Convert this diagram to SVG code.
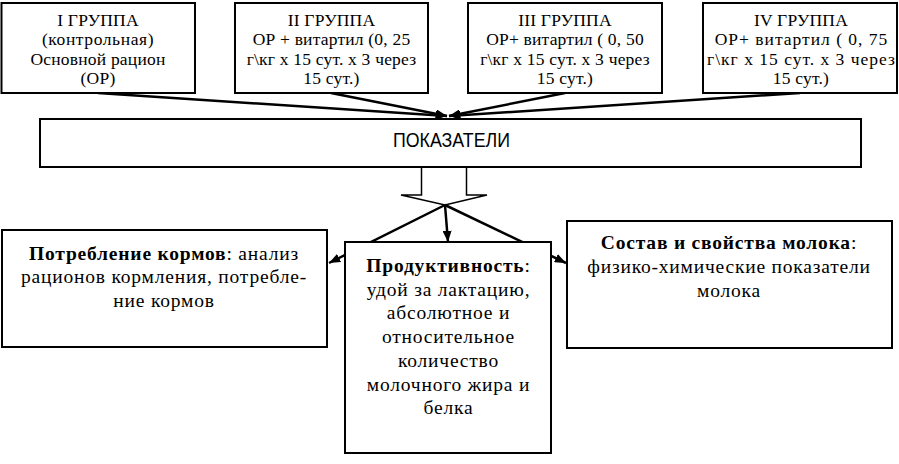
<svg xmlns="http://www.w3.org/2000/svg" width="899" height="464" viewBox="0 0 899 464">
<style>
.box{fill:#fff;stroke:#000;stroke-width:2}
.t{font-family:"Liberation Serif","Times New Roman",serif;font-size:17.5px;letter-spacing:0.2px;fill:#000;text-anchor:middle}
.w{letter-spacing:1px}
.b{font-family:"Liberation Serif","Times New Roman",serif;font-size:19.5px;letter-spacing:0.8px;fill:#000;text-anchor:middle}
.bold{font-weight:bold}
.s{font-family:"Liberation Sans",Arial,sans-serif;font-size:20px;fill:#000;text-anchor:middle}
.ln{stroke:#000;stroke-width:2.5;fill:none}
</style>
<defs>
<marker id="ah" viewBox="0 0 10 8" refX="10" refY="4" markerWidth="4.5" markerHeight="3.6" orient="auto" markerUnits="strokeWidth">
<path d="M0,0 L10,4 L0,8 z" fill="#000"/>
</marker>
</defs>
<rect width="899" height="464" fill="#fff"/>
<g id="connectors">
<line class="ln" x1="98" y1="93" x2="447" y2="116" marker-end="url(#ah)"/>
<line class="ln" x1="331" y1="93" x2="447" y2="116" marker-end="url(#ah)"/>
<line class="ln" x1="565" y1="93" x2="449" y2="116" marker-end="url(#ah)"/>
<line class="ln" x1="800" y1="93" x2="449" y2="116" marker-end="url(#ah)"/>
<polygon points="421.5,167 466.5,167 466.5,195 487,195 445,205 401,195 421.5,195" fill="#fff" stroke="#000" stroke-width="1.5"/>
<line class="ln" x1="445" y1="205" x2="329" y2="263" marker-end="url(#ah)"/>
<line class="ln" x1="445" y1="205" x2="448" y2="242" marker-end="url(#ah)"/>
<line class="ln" x1="445" y1="205" x2="566" y2="263" marker-end="url(#ah)"/>
</g>
<g id="g1">
<rect class="box" x="1.5" y="3" width="193.5" height="90"/>
<text class="t" x="98" y="25.5">I ГРУППА</text>
<text class="t" x="98" y="45" style="letter-spacing:0.6px">(контрольная)</text>
<text class="t" x="98" y="64.5">Основной рацион</text>
<text class="t" x="98" y="84">(ОР)</text>
</g>
<g id="g2">
<rect class="box" x="235" y="3" width="193" height="90"/>
<text class="t" x="331.5" y="25.5">II ГРУППА</text>
<text class="t" x="331.5" y="45">ОР + витартил (0, 25</text>
<text class="t" x="331.5" y="64.5">г\кг х 15 сут. х 3 через</text>
<text class="t" x="331.5" y="84">15 сут.)</text>
</g>
<g id="g3">
<rect class="box" x="468" y="3" width="194" height="90"/>
<text class="t" x="565" y="25.5">III ГРУППА</text>
<text class="t" x="565" y="45">ОР+ витартил ( 0, 50</text>
<text class="t" x="565" y="64.5">г\кг х 15 сут. х 3 через</text>
<text class="t" x="565" y="84">15 сут.)</text>
</g>
<g id="g4">
<rect class="box" x="703" y="3" width="194" height="90"/>
<text class="t" x="801" y="25.5">IV ГРУППА</text>
<text class="t w" x="801.5" y="45">ОР+ витартил ( 0, 75</text>
<text class="t w" x="801.5" y="64.5">г\кг х 15 сут. х 3 через</text>
<text class="t" x="801" y="84">15 сут.)</text>
</g>
<g id="pokazateli">
<rect class="box" x="40" y="119" width="821" height="48"/>
<text class="s" x="451.5" y="146.5" textLength="117" lengthAdjust="spacingAndGlyphs">ПОКАЗАТЕЛИ</text>
</g>
<g id="feed">
<rect class="box" x="2" y="230" width="325" height="117"/>
<text class="b" x="164" y="259.5"><tspan class="bold">Потребление кормов</tspan>: анализ</text>
<text class="b" x="164" y="283">рационов кормления, потребле-</text>
<text class="b" x="164" y="306.5">ние кормов</text>
</g>
<g id="productivity">
<rect class="box" x="345" y="242" width="206" height="211"/>
<text class="b" x="448.5" y="272"><tspan class="bold">Продуктивность</tspan>:</text>
<text class="b" x="448.5" y="295.7">удой за лактацию,</text>
<text class="b" x="448.5" y="319.4">абсолютное и</text>
<text class="b" x="448.5" y="343.1">относительное</text>
<text class="b" x="448.5" y="366.8">количество</text>
<text class="b" x="448.5" y="390.5">молочного жира и</text>
<text class="b" x="448.5" y="414.2">белка</text>
</g>
<g id="milk">
<rect class="box" x="567" y="221" width="325" height="127"/>
<text class="b" x="729" y="248.5"><tspan class="bold">Состав и свойства молока</tspan>:</text>
<text class="b" x="729" y="273">физико-химические показатели</text>
<text class="b" x="729" y="297">молока</text>
</g>
</svg>
